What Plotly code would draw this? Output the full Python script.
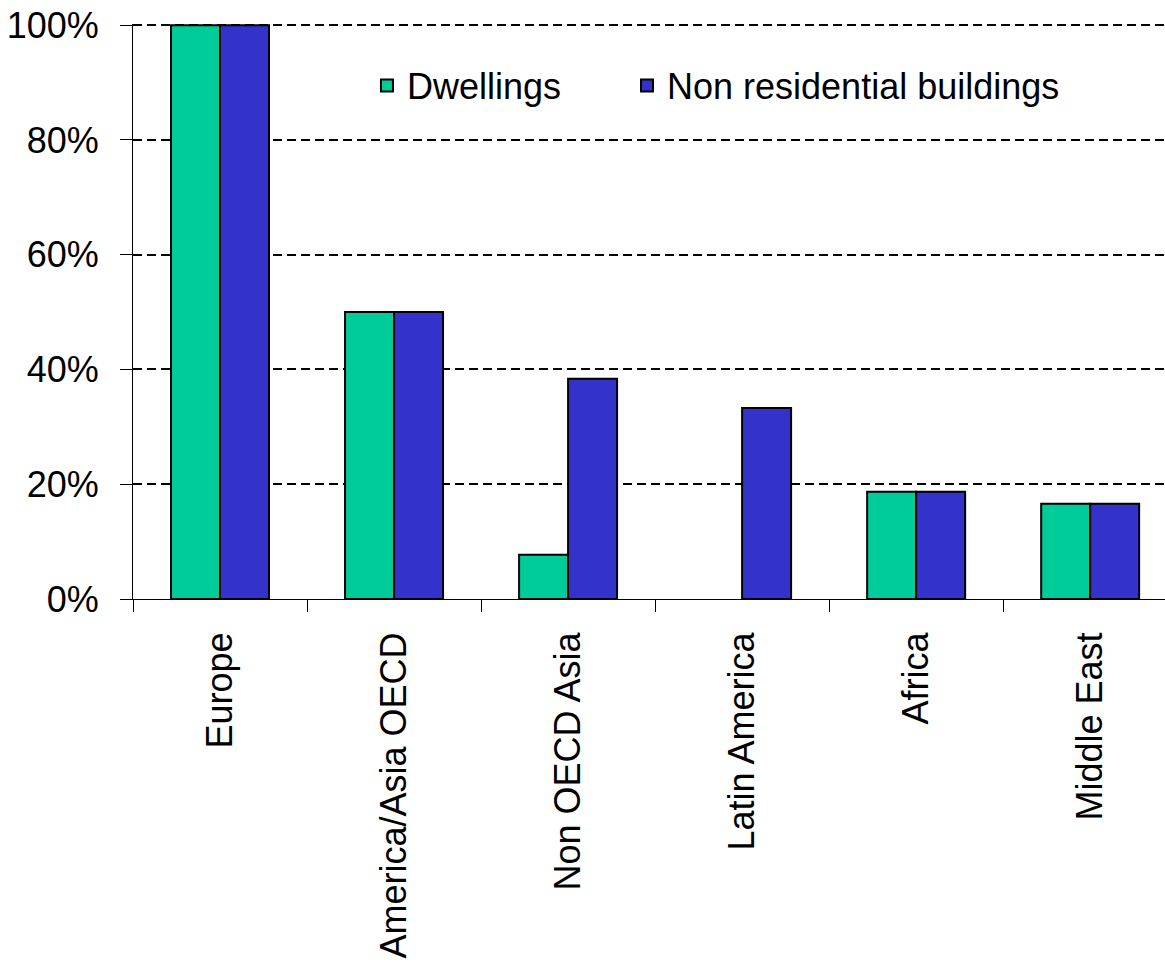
import plotly.graph_objects as go

regions = ["Europe", "America/Asia OECD", "Non OECD Asia", "Latin America", "Africa", "Middle East"]
dwellings = [1.0, 0.50, 0.077, None, 0.187, 0.166]
non_residential = [1.0, 0.50, 0.384, 0.333, 0.187, 0.166]

font = dict(family="Liberation Sans, Arial, sans-serif", size=36, color="black")

fig = go.Figure()
fig.add_trace(go.Bar(x=regions, y=dwellings, name="Dwellings", legend="legend", showlegend=True,
                     marker=dict(color="#00CC99", line=dict(color="black", width=2))))
fig.add_trace(go.Bar(x=regions, y=non_residential, name="Non residential buildings", legend="legend2",
                     showlegend=True,
                     marker=dict(color="#3333CC", line=dict(color="black", width=2))))

leg = dict(orientation="h", y=0.893, xanchor="left", yanchor="middle",
           bgcolor="rgba(0,0,0,0)", font=font)

fig.update_layout(
    width=1165, height=967,
    margin=dict(l=133, r=0, t=24, b=368),
    plot_bgcolor="white", paper_bgcolor="white",
    font=font, showlegend=True,
    barmode="group", bargap=0.437, bargroupgap=0,
    legend=dict(leg, x=0.2267),
    legend2=dict(leg, x=0.4787),
)
fig.update_xaxes(
    range=[-0.5, 5.43], tickson="boundaries", ticks="outside", ticklen=12,
    tickcolor="black", showline=True, linecolor="black", linewidth=1,
    tickangle=-90, showgrid=False, ticklabelstandoff=18, automargin=False,
)
fig.update_yaxes(
    range=[0, 1.002], tickvals=[0, 0.2, 0.4, 0.6, 0.8, 1.0], tickformat=".0%",
    ticks="outside", ticklen=12, tickcolor="black", showline=True,
    linecolor="black", linewidth=1, showgrid=True, gridcolor="black",
    griddash="9px,5px", gridwidth=2, zeroline=False, ticklabelstandoff=14,
    ticklabeloverflow="allow", automargin=False,
)

# drop the default 8px page margin so the figure fills the window
fig.write_html("out.html", config={"displayModeBar": False},
               post_script="document.body.style.margin='0';")
